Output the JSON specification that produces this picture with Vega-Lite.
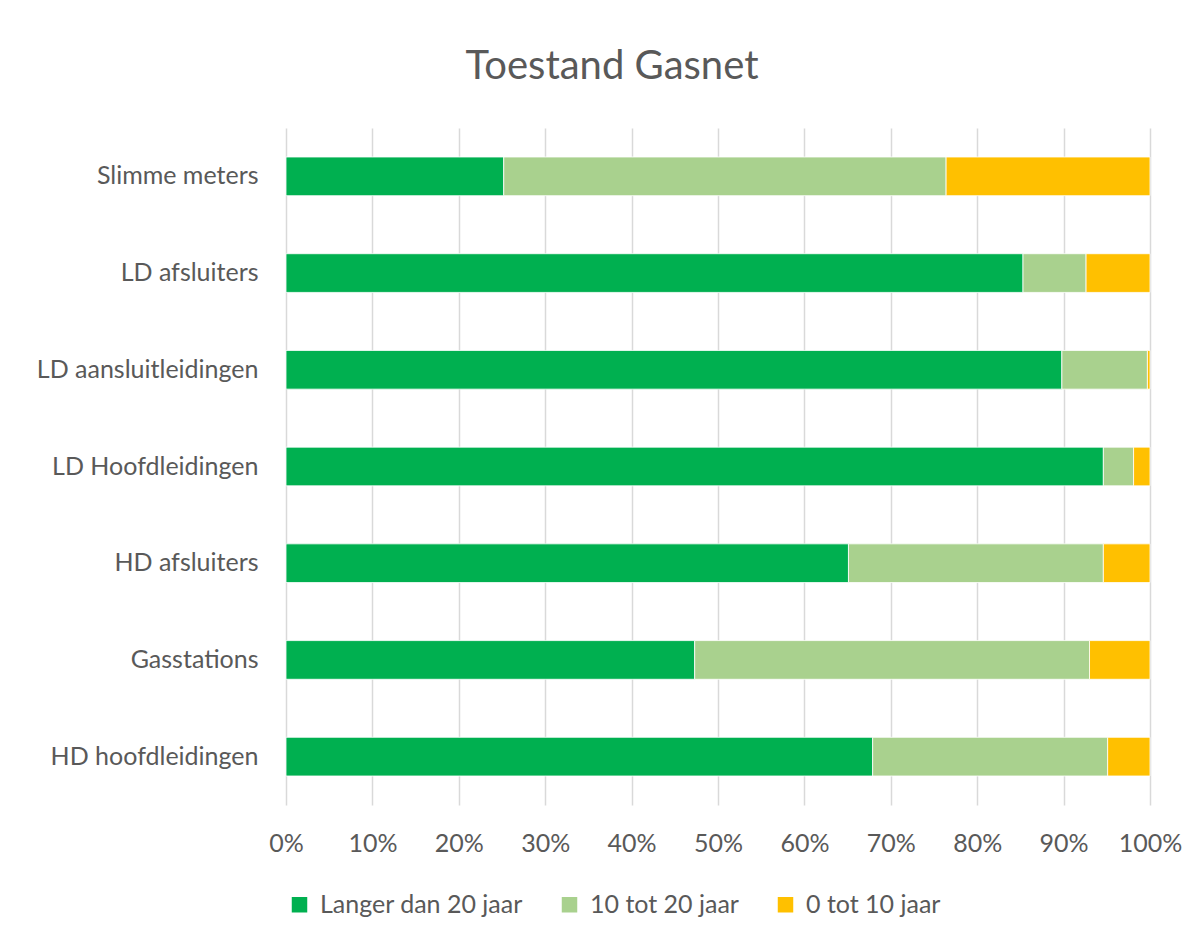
{
  "$schema": "https://vega.github.io/schema/vega-lite/v6.json",
  "width": 864,
  "height": 677,
  "autosize": {"type": "none"},
  "padding": {"left": 286, "top": 128, "right": 53, "bottom": 137},
  "background": "white",
  "title": {
    "text": "Toestand Gasnet",
    "fontSize": 40,
    "font": "Lato",
    "fontWeight": "normal",
    "color": "#595959",
    "anchor": "middle",
    "offset": 41,
    "dx": -106
  },
  "config": {
    "view": {"stroke": null},
    "font": "Lato"
  },
  "data": {
    "values": [
      {"cat": "Slimme meters", "serie": "Langer dan 20 jaar", "ord": 1, "pct": 25.2},
      {"cat": "Slimme meters", "serie": "10 tot 20 jaar", "ord": 2, "pct": 51.2},
      {"cat": "Slimme meters", "serie": "0 tot 10 jaar", "ord": 3, "pct": 23.6},
      {"cat": "LD afsluiters", "serie": "Langer dan 20 jaar", "ord": 1, "pct": 85.3},
      {"cat": "LD afsluiters", "serie": "10 tot 20 jaar", "ord": 2, "pct": 7.3},
      {"cat": "LD afsluiters", "serie": "0 tot 10 jaar", "ord": 3, "pct": 7.4},
      {"cat": "LD aansluitleidingen", "serie": "Langer dan 20 jaar", "ord": 1, "pct": 89.8},
      {"cat": "LD aansluitleidingen", "serie": "10 tot 20 jaar", "ord": 2, "pct": 9.9},
      {"cat": "LD aansluitleidingen", "serie": "0 tot 10 jaar", "ord": 3, "pct": 0.3},
      {"cat": "LD Hoofdleidingen", "serie": "Langer dan 20 jaar", "ord": 1, "pct": 94.6},
      {"cat": "LD Hoofdleidingen", "serie": "10 tot 20 jaar", "ord": 2, "pct": 3.5},
      {"cat": "LD Hoofdleidingen", "serie": "0 tot 10 jaar", "ord": 3, "pct": 1.9},
      {"cat": "HD afsluiters", "serie": "Langer dan 20 jaar", "ord": 1, "pct": 65.1},
      {"cat": "HD afsluiters", "serie": "10 tot 20 jaar", "ord": 2, "pct": 29.5},
      {"cat": "HD afsluiters", "serie": "0 tot 10 jaar", "ord": 3, "pct": 5.4},
      {"cat": "Gasstations", "serie": "Langer dan 20 jaar", "ord": 1, "pct": 47.3},
      {"cat": "Gasstations", "serie": "10 tot 20 jaar", "ord": 2, "pct": 45.7},
      {"cat": "Gasstations", "serie": "0 tot 10 jaar", "ord": 3, "pct": 7.0},
      {"cat": "HD hoofdleidingen", "serie": "Langer dan 20 jaar", "ord": 1, "pct": 67.9},
      {"cat": "HD hoofdleidingen", "serie": "10 tot 20 jaar", "ord": 2, "pct": 27.2},
      {"cat": "HD hoofdleidingen", "serie": "0 tot 10 jaar", "ord": 3, "pct": 4.9}
    ]
  },
  "mark": {"type": "bar", "stroke": "white", "strokeWidth": 0.8},
  "encoding": {
    "y": {
      "field": "cat",
      "type": "nominal",
      "sort": null,
      "scale": {"paddingInner": 0.6, "paddingOuter": 0.3},
      "axis": {
        "title": null,
        "ticks": false,
        "domain": false,
        "labelFontSize": 25,
        "labelColor": "#595959",
        "labelPadding": 28,
        "labelLimit": 400
      }
    },
    "x": {
      "field": "pct",
      "type": "quantitative",
      "stack": "normalize",
      "scale": {"domain": [0, 1], "nice": false},
      "axis": {
        "title": null,
        "format": ".0%",
        "values": [0, 0.1, 0.2, 0.3, 0.4, 0.5, 0.6, 0.7, 0.8, 0.9, 1],
        "ticks": false,
        "domain": false,
        "grid": true,
        "gridColor": "#d9d9d9",
        "gridWidth": 1.5,
        "labelFontSize": 25,
        "labelColor": "#595959",
        "labelPadding": 26,
        "labelFlush": false
      }
    },
    "color": {
      "field": "serie",
      "type": "nominal",
      "sort": ["Langer dan 20 jaar", "10 tot 20 jaar", "0 tot 10 jaar"],
      "scale": {
        "domain": ["Langer dan 20 jaar", "10 tot 20 jaar", "0 tot 10 jaar"],
        "range": ["#00B050", "#A9D18E", "#FFC000"]
      },
      "legend": {
        "title": null,
        "orient": "none",
        "direction": "horizontal",
        "legendX": 1,
        "legendY": 764,
        "symbolType": "square",
        "symbolSize": 240,
        "symbolStrokeWidth": 0,
        "labelFontSize": 25,
        "labelColor": "#595959",
        "labelOffset": 8,
        "columnPadding": 34,
        "labelLimit": 400
      }
    },
    "order": {"field": "ord", "type": "quantitative"}
  }
}
